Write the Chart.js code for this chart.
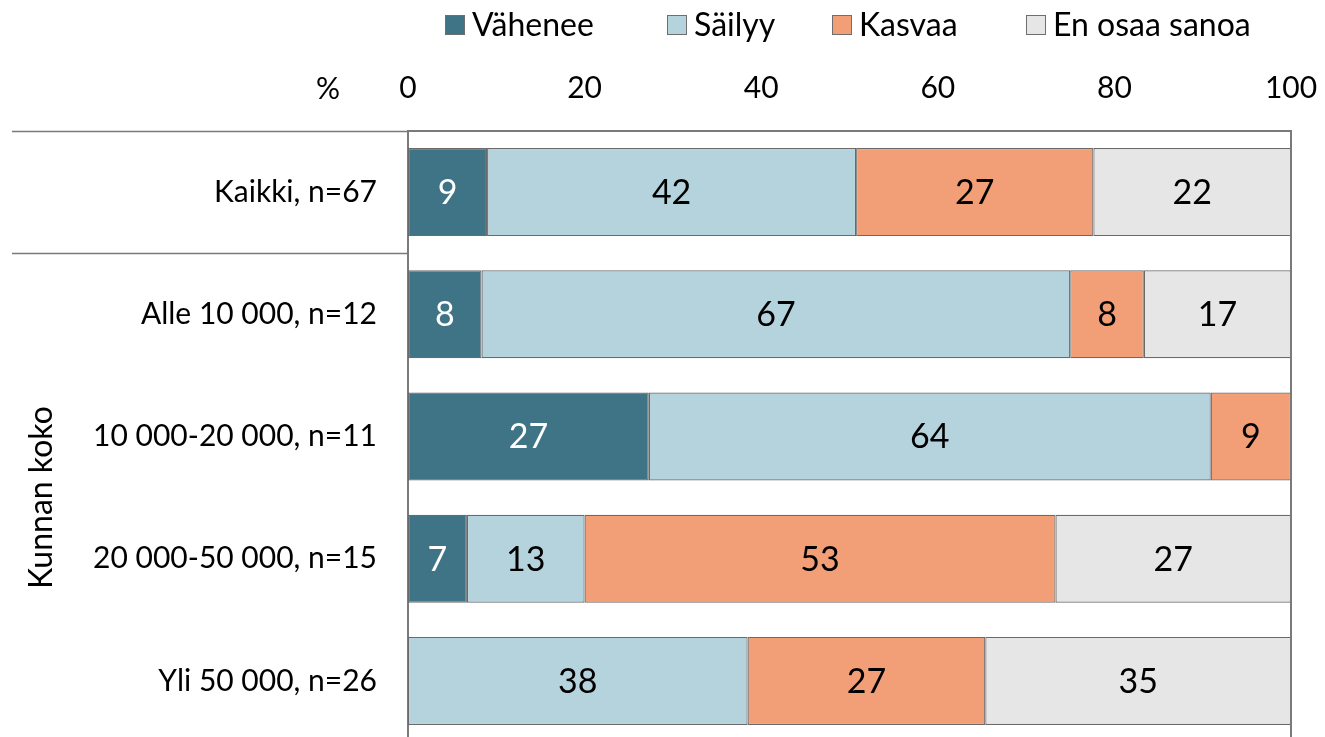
<!DOCTYPE html>
<html>
<head>
<meta charset="utf-8">
<script src="https://cdn.jsdelivr.net/npm/chart.js@4.4.1/dist/chart.umd.min.js"></script>
<style>
html,body{margin:0;padding:0;background:#fff;overflow:hidden;}
#wrap{width:1325px;height:737px;overflow:hidden;}
</style>
</head>
<body>
<div id="wrap"><canvas id="c" width="1325" height="791"></canvas></div>
<script>
const categories = ['Kaikki, n=67', 'Alle 10 000, n=12', '10 000-20 000, n=11', '20 000-50 000, n=15', 'Yli 50 000, n=26'];
const seriesNames = ['Vähenee', 'Säilyy', 'Kasvaa', 'En osaa sanoa'];
const vahenee = [8.96, 8.33, 27.27, 6.67, null];
const sailyy = [41.79, 66.67, 63.64, 13.33, 38.46];
const kasvaa = [26.87, 8.33, 9.09, 53.33, 26.92];
const eos = [22.39, 16.67, null, 26.67, 34.62];
const xTicks = [0, 20, 40, 60, 80, 100];
const groupTitle = 'Kunnan koko';
const unitLabel = '%';

const colors = ['#3f7486', '#b5d3dc', '#f29e76', '#e6e6e6'];
const labelColors = ['#ffffff', '#000000', '#000000', '#000000'];
const FONT = 'Lato, "Open Sans", sans-serif';
const lineColor = '#7a7a7a';
const legendX = [445, 667, 832, 1026];

const seriesData = [vahenee, sailyy, kasvaa, eos];

const datasets = seriesNames.map((n, i) => ({
  label: n,
  data: seriesData[i],
  backgroundColor: colors[i],
  borderColor: '#6a6a6a',
  borderWidth: 1.2,
  borderSkipped: false,
  barPercentage: 0.72,
  categoryPercentage: 1.0
}));

const extras = {
  id: 'extras',
  afterDatasetsDraw(chart) {
    const ctx = chart.ctx;
    ctx.save();
    ctx.font = '34px ' + FONT;
    ctx.textAlign = 'center';
    ctx.textBaseline = 'middle';
    chart.data.datasets.forEach((ds, di) => {
      const meta = chart.getDatasetMeta(di);
      meta.data.forEach((el, i) => {
        const v = ds.data[i];
        if (v === null || v === undefined) return;
        const cx = (el.x + el.base) / 2;
        ctx.fillStyle = labelColors[di];
        ctx.fillText(String(Math.round(v)), cx, el.y + 1);
      });
    });
    ctx.restore();
  },
  afterDraw(chart) {
    const ctx = chart.ctx;
    const ca = chart.chartArea;
    const y = chart.scales.y;
    ctx.save();
    ctx.strokeStyle = lineColor;
    ctx.lineWidth = 2;
    ctx.beginPath();
    ctx.moveTo(ca.right, ca.top);
    ctx.lineTo(ca.right, ca.bottom);
    ctx.stroke();
    const sep1 = ca.top;
    const sep2 = (y.getPixelForValue(0) + y.getPixelForValue(1)) / 2;
    ctx.lineWidth = 1.5;
    [sep1, sep2].forEach(py => {
      ctx.beginPath();
      ctx.moveTo(12, Math.round(py) + 0.5);
      ctx.lineTo(ca.left, Math.round(py) + 0.5);
      ctx.stroke();
    });
    const gy = (y.getPixelForValue(1) + y.getPixelForValue(4)) / 2;
    ctx.fillStyle = '#000';
    ctx.font = '32px ' + FONT;
    ctx.textAlign = 'center';
    ctx.textBaseline = 'middle';
    ctx.translate(42, gy);
    ctx.rotate(-Math.PI / 2);
    ctx.fillText(groupTitle, 0, 0);
    ctx.setTransform(1, 0, 0, 1, 0, 0);
    ctx.font = '30px ' + FONT;
    ctx.fillText(unitLabel, 328, 89);
    ctx.font = '32px ' + FONT;
    const box = 20;
    const ly = 25;
    chart.data.datasets.forEach((d, i) => {
      const lx = legendX[i];
      ctx.fillStyle = d.backgroundColor;
      ctx.fillRect(lx, ly - box / 2, box, box);
      ctx.strokeStyle = '#6e6e6e';
      ctx.lineWidth = 1;
      ctx.strokeRect(lx + 0.5, ly - box / 2 + 0.5, box - 1, box - 1);
      ctx.fillStyle = '#000';
      ctx.textAlign = 'left';
      ctx.fillText(d.label, lx + 27, ly + 1);
    });
    ctx.restore();
  }
};

new Chart(document.getElementById('c'), {
  type: 'bar',
  data: { labels: categories, datasets },
  options: {
    indexAxis: 'y',
    responsive: false,
    animation: false,
    devicePixelRatio: 1,
    layout: { padding: { top: 50, right: 34, left: 0, bottom: 0 } },
    plugins: { legend: { display: false }, tooltip: { enabled: false } },
    scales: {
      x: {
        position: 'top',
        stacked: true,
        min: 0,
        max: 100,
        afterBuildTicks: (s) => { s.ticks = xTicks.map(v => ({ value: v })); },
        afterFit: (s) => { s.height = 81; s.paddingLeft = 0; s.paddingRight = 0; },
        grid: { display: false, drawTicks: false },
        border: { display: true, color: lineColor, width: 2 },
        ticks: { color: '#000', font: { family: FONT, size: 30 }, padding: 25, maxRotation: 0 }
      },
      y: {
        stacked: true,
        afterFit: (s) => { s.width = 408; },
        grid: { display: false, drawTicks: false },
        border: { display: true, color: lineColor, width: 2 },
        ticks: { color: '#000', font: { family: FONT, size: 30 }, padding: 31 }
      }
    }
  },
  plugins: [extras]
});
</script>
</body>
</html>
